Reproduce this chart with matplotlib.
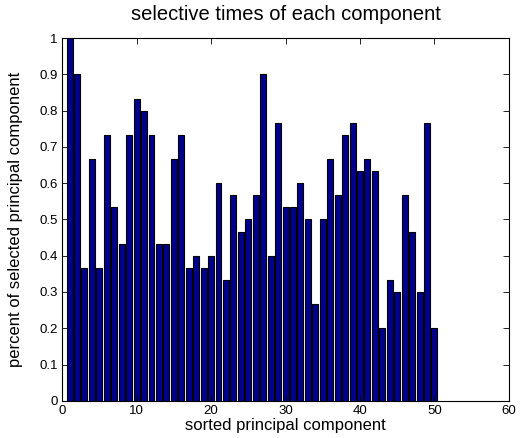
import matplotlib
matplotlib.use('Agg')
import matplotlib.pyplot as plt
import numpy as np

plt.rcParams['font.family'] = ['Liberation Sans', 'DejaVu Sans']

# fraction of runs in which each sorted component was selected (steps of 1/30)
components = np.arange(1, 51)
percent_selected = [
    30, 27, 11, 20, 11, 22, 16, 13, 22, 25,
    24, 22, 13, 13, 20, 22, 11, 12, 11, 12,
    18, 10, 17, 14, 15, 17, 27, 12, 23, 16,
    16, 18, 15, 8, 15, 20, 17, 22, 23, 19,
    20, 19, 6, 10, 9, 17, 14, 9, 23, 6,
]
percent_selected = np.array(percent_selected) / 30.0

fig = plt.figure(figsize=(5.22, 4.38), dpi=100)
ax = fig.add_axes([0.119, 0.085, 0.856, 0.828])

ax.bar(components, percent_selected, width=0.8, color='#00008c',
       edgecolor='black', linewidth=0.8)

ax.set_xlim(0, 60)
ax.set_ylim(0, 1)
ax.set_xticks(np.arange(0, 61, 10))
ax.set_yticks(np.arange(0, 1.01, 0.1))
ax.set_yticklabels(['0', '0.1', '0.2', '0.3', '0.4', '0.5', '0.6', '0.7', '0.8', '0.9', '1'])
ax.tick_params(direction='in', top=True, right=True, labelsize=9.5, length=4, width=0.6, pad=3)
for s in ax.spines.values():
    s.set_linewidth(0.8)

ax.set_xlabel('sorted principal component', fontsize=12)
ax.set_ylabel('percent of selected principal component', fontsize=12)
ax.xaxis.set_label_coords(0.5, -0.048)
ax.yaxis.set_label_coords(-0.088, 0.5)
ax.set_title('selective times of each component', fontsize=14.5, pad=13)

fig.savefig('out.png', dpi=100)
